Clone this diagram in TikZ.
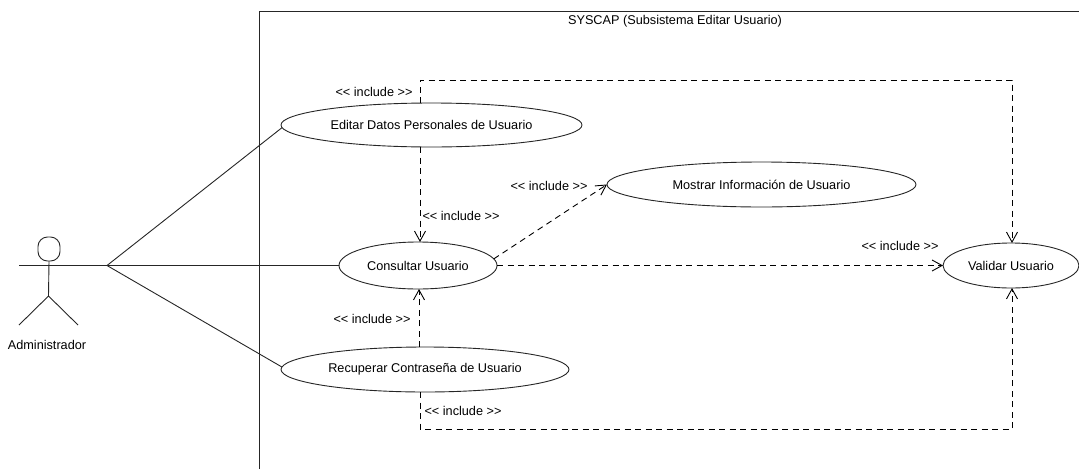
\documentclass[tikz,border=0pt]{standalone}
\usepackage{fontspec}
\setmainfont{Liberation Sans}
\usetikzlibrary{shapes.geometric,arrows.meta}
\tikzset{
  usecase/.style={draw=black!85,ellipse,line width=0.9pt,inner sep=0pt,outer sep=0pt,fill=white,align=center,font=\fontsize{12.7}{14}\selectfont},
  lbl/.style={inner sep=0pt,outer sep=0pt,font=\fontsize{12.7}{14}\selectfont},
  solidline/.style={draw=black!85,line width=0.9pt},
  inc/.style={draw=black,line width=0.9pt,dash pattern=on 6pt off 4.5pt,-{Straight Barb[length=10pt,width=11pt,line width=0.9pt]}}
}
\begin{document}
\begin{tikzpicture}[x=1pt,y=-1pt]
\useasboundingbox (0,0) rectangle (1079,469);
% system frame
\coordinate (ftl) at (259,11);
\coordinate (ftr) at (1079,11);
\coordinate (fbl) at (259,469);
\draw[solidline] (fbl) -- (ftl) -- (ftr);
\node[lbl] (title) at (675,21) {SYSCAP (Subsistema Editar Usuario)};
% use cases
\node[usecase,minimum width=301pt,minimum height=44pt] (editar) at (431.5,125) {Editar Datos Personales de Usuario};
\node[usecase,minimum width=309pt,minimum height=45pt] (mostrar) at (761.5,184.5) {Mostrar Información de Usuario};
\node[usecase,minimum width=158pt,minimum height=47pt] (consultar) at (418,265.5) {Consultar Usuario};
\node[usecase,minimum width=288pt,minimum height=45pt] (recuperar) at (425,369.5) {Recuperar Contraseña de Usuario};
\node[usecase,minimum width=136pt,minimum height=45pt] (validar) at (1011,265.5) {Validar Usuario};
% actor
\node[draw=black!85,line width=0.9pt,rounded corners=9.5pt,minimum width=22pt,minimum height=24pt,inner sep=0pt,outer sep=0pt] (head) at (49,249) {};
\coordinate (armL) at (19,265.5);
\coordinate (hip) at (48.5,296);
\coordinate (legL) at (19,325);
\coordinate (legR) at (78,325);
\coordinate (junction) at (107,265.5);
\draw[solidline] (head.south) -- (hip);
\draw[solidline] (legL) -- (hip) -- (legR);
\node[lbl] (actorname) at (47,345) {Administrador};
% associations
\draw[solidline] (armL) -- (junction);
\draw[solidline] (junction) -- (editar.181);
\draw[solidline] (junction) -- (consultar.west);
\draw[solidline] (junction) -- (recuperar.179);
% includes
\coordinate (xa) at (420,80);
\coordinate (xb) at (1012,80);
\coordinate (xc) at (420,429);
\coordinate (xd) at (1012,429);
\coordinate (xe) at (419,300);
\draw[inc] (editar.north -| xa) -- (xa) -- (xb) -- (validar.north -| xb);
\draw[inc] (editar.south -| xa) -- (consultar.north -| xa);
\draw[inc] (consultar.5) -- (mostrar.west);
\draw[inc] (consultar.east) -- (validar.west);
\draw[inc] (recuperar.north -| xe) -- (consultar.south -| xe);
\draw[inc] (recuperar.south -| xc) -- (xc) -- (xd) -- (validar.south -| xd);
% labels
\node[lbl] (l1) at (374,92) {<{}< include >{}>};
\node[lbl] (l2) at (461,216) {<{}< include >{}>};
\node[lbl] (l3) at (549,186) {<{}< include >{}>};
\node[lbl] (l4) at (900,246) {<{}< include >{}>};
\node[lbl] (l5) at (372,319) {<{}< include >{}>};
\node[lbl] (l6) at (463,411) {<{}< include >{}>};
\end{tikzpicture}
\end{document}
